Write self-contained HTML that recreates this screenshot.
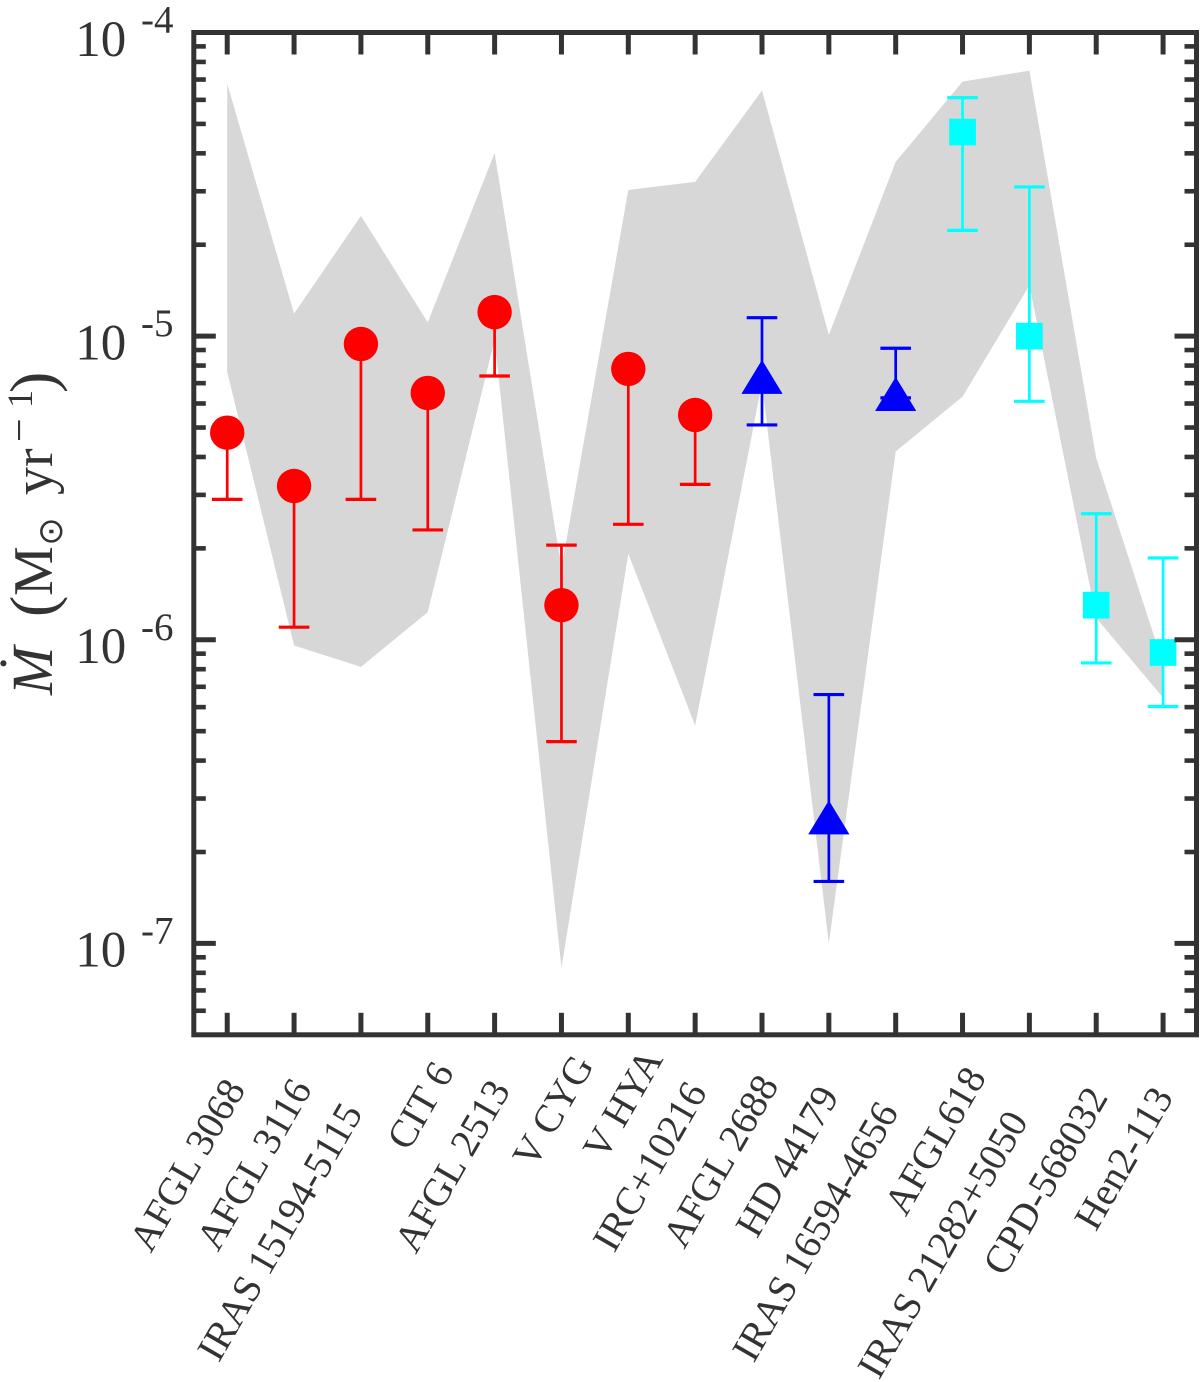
<!DOCTYPE html>
<html lang="en">
<head>
<meta charset="utf-8">
<title>Mass-loss rates</title>
<style>
html,body{margin:0;padding:0;background:#fff;width:1200px;height:1382px;overflow:hidden}
svg{display:block}
text{font-family:"Liberation Serif",serif;fill:#333}
</style>
</head>
<body>
<svg id="chart" xmlns="http://www.w3.org/2000/svg" width="1200" height="1382" viewBox="0 0 1200 1382">
  <g id="band-layer"></g>
  <g id="series-layer"></g>
  <g id="axes-layer"></g>
  <g id="y-title">
    <text transform="translate(52,695) rotate(-90)" font-size="58" font-style="italic">M</text>
    <text transform="translate(39,673) rotate(-90)" font-size="58">˙</text>
    <text transform="translate(54,617) rotate(-90)" font-size="64">(</text>
    <text transform="translate(52,596) rotate(-90)" font-size="56">M</text>
    <text transform="translate(62,531.5) rotate(-90)" font-size="34" text-anchor="middle" style="font-family:'DejaVu Sans',sans-serif">⊙</text>
    <text transform="translate(52,495) rotate(-90)" font-size="56">yr</text>
    <text transform="translate(33,442) rotate(-90)" font-size="42">−</text>
    <text transform="translate(32,408) rotate(-90)" font-size="36">1</text>
    <text transform="translate(54,393) rotate(-90)" font-size="64">)</text>
  </g>
</svg>
<script>
const categories = ["AFGL 3068","AFGL 3116","IRAS 15194-5115","CIT 6","AFGL 2513","V CYG","V HYA","IRC+10216","AFGL 2688","HD 44179","IRAS 16594-4656","AFGL618","IRAS 21282+5050","CPD-568032","Hen2-113"];
const bandUpper = [6.79e-5,1.186e-5,2.49e-5,1.11e-5,4.01e-5,1.72e-6,3.03e-5,3.22e-5,6.44e-5,1.01e-5,3.75e-5,6.89e-5,7.49e-5,3.97e-6,8.33e-7];
const bandLower = [7.62e-6,9.57e-7,8.14e-7,1.233e-6,9.72e-6,8.31e-8,1.92e-6,5.22e-7,7.01e-6,1.00e-7,4.17e-6,6.32e-6,1.47e-5,1.18e-6,6.44e-7];
const rateValues = [4.81e-6,3.21e-6,9.42e-6,6.50e-6,1.20e-5,1.30e-6,7.80e-6,5.50e-6,7.34e-6,2.60e-7,6.45e-6,4.70e-5,1.00e-5,1.30e-6,9.08e-7];
const errorLow = [2.90e-6,1.10e-6,2.90e-6,2.30e-6,7.39e-6,4.62e-7,2.40e-6,3.25e-6,5.10e-6,1.60e-7,6.26e-6,2.23e-5,6.10e-6,8.39e-7,6.03e-7];
const errorHigh = [null,null,null,null,null,2.05e-6,null,null,1.15e-5,6.60e-7,9.12e-6,6.10e-5,3.10e-5,2.60e-6,1.86e-6];
const seriesClass = ["circle","circle","circle","circle","circle","circle","circle","circle","triangle","triangle","triangle","square","square","square","square"];
const yTickExponents = [-4,-5,-6,-7];
const yTickLabels = ["-4","-5","-6","-7"];
const yMinorMultiples = [2,3,4,5,6,7,8,9];
const yMin = 5e-8;
const yMax = 1e-4;
const xMin = 0.5;
const xMax = 15.5;

const NS = "http://www.w3.org/2000/svg";
const INK = "#333333";
const plot = {left:193.8, right:1196.5, top:32.5, bottom:1034.8};
const classColor = {circle:"#ff0000", triangle:"#0000ff", square:"#00ffff"};

function xScale(i){
  return plot.left + (i - xMin) / (xMax - xMin) * (plot.right - plot.left);
}
function yScale(v){
  return plot.top + (Math.log10(yMax) - Math.log10(v)) / (Math.log10(yMax) - Math.log10(yMin)) * (plot.bottom - plot.top);
}
function make(tag, attrs, parent){
  const el = document.createElementNS(NS, tag);
  for (const k in attrs) el.setAttribute(k, attrs[k]);
  parent.appendChild(el);
  return el;
}
function tickLine(parent, x1, y1, x2, y2, name, width){
  const el = make("line", {x1:x1, y1:y1, x2:x2, y2:y2, stroke:INK, "stroke-width":width}, parent);
  
  
  return el;
}

function drawBand(){
  const layer = document.getElementById("band-layer");
  const pts = [];
  bandUpper.forEach(function(v, i){ pts.push(xScale(i + 1).toFixed(2) + "," + yScale(v).toFixed(2)); });
  for (let i = bandLower.length - 1; i >= 0; i--) pts.push(xScale(i + 1).toFixed(2) + "," + yScale(bandLower[i]).toFixed(2));
  const band = make("polygon", {points:pts.join(" "), fill:"#d7d7d7", stroke:"none"}, layer);
  
  
}

function drawSeries(){
  const layer = document.getElementById("series-layer");
  const capHalf = 15.3;
  categories.forEach(function(name, idx){
    const x = xScale(idx + 1);
    const y = yScale(rateValues[idx]);
    const color = classColor[seriesClass[idx]];
    const top = errorHigh[idx] === null ? rateValues[idx] : errorHigh[idx];

    const stem = make("line", {x1:x, x2:x, y1:yScale(top), y2:yScale(errorLow[idx]), stroke:color, "stroke-width":2.7}, layer);
    
    

    const lowCap = make("line", {x1:x - capHalf, x2:x + capHalf, y1:yScale(errorLow[idx]), y2:yScale(errorLow[idx]), stroke:color, "stroke-width":3.2}, layer);
    
    

    if (errorHigh[idx] !== null) {
      const highCap = make("line", {x1:x - capHalf, x2:x + capHalf, y1:yScale(errorHigh[idx]), y2:yScale(errorHigh[idx]), stroke:color, "stroke-width":3.2}, layer);
      
      
    }

    let marker;
    if (seriesClass[idx] === "circle") {
      marker = make("circle", {cx:x, cy:y, r:17.2, fill:color}, layer);
    } else if (seriesClass[idx] === "triangle") {
      marker = make("polygon", {points:(x) + "," + (y - 17) + " " + (x + 20.6) + "," + (y + 17) + " " + (x - 20.6) + "," + (y + 17), fill:color}, layer);
    } else {
      marker = make("rect", {x:x - 13.35, y:y - 13.35, width:26.7, height:26.7, fill:color}, layer);
    }
    
    
  });
}

function drawAxes(){
  const layer = document.getElementById("axes-layer");
  const lw = 5;
  const majorLen = 20;
  const minorLen = 10;

  const frame = make("rect", {x:plot.left, y:plot.top, width:plot.right - plot.left, height:plot.bottom - plot.top, fill:"none", stroke:INK, "stroke-width":lw}, layer);
  
  

  categories.forEach(function(name, idx){
    const x = xScale(idx + 1);
    tickLine(layer, x, plot.bottom, x, plot.bottom - 22, 'x-tick-bottom', lw);
    tickLine(layer, x, plot.top, x, plot.top + 22, 'x-tick-top', lw);
  });

  yTickExponents.forEach(function(exp, i){
    const y = yScale(Math.pow(10, exp));
    if (exp !== -4) {
      tickLine(layer, plot.left, y, plot.left + majorLen + 2, y, 'y-major-tick-left', lw);
      tickLine(layer, plot.right, y, plot.right - majorLen - 2, y, 'y-major-tick-right', lw);
    }
    const base = make("text", {x:75.3, y:y + 23.3, "font-size":51}, layer);
    
    
    base.textContent = "10";
    const sup = make("text", {x:141, y:y, "font-size":39}, layer);
    
    
    sup.textContent = yTickLabels[i];
  });

  [-5,-6,-7,-8].forEach(function(exp){
    yMinorMultiples.forEach(function(m){
      const v = m * Math.pow(10, exp);
      if (v <= yMin) return;
      const y = yScale(v);
      tickLine(layer, plot.left, y, plot.left + minorLen + 2, y, 'y-minor-tick-left', 4.6);
      tickLine(layer, plot.right, y, plot.right - minorLen - 2, y, 'y-minor-tick-right', 4.6);
    });
  });

  const labelEndShift = [[19,1089],[18.5,1089],[2.5,1113],[27,1072],[16.5,1090],[33,1065],[35.5,1059],[12.5,1092],[17.5,1085],[11,1096],[3.5,1112],[24.5,1077],[-0.5,1121],[12.5,1097],[11,1097]];
  categories.forEach(function(name, idx){
    const ex = xScale(idx + 1) + labelEndShift[idx][0];
    const ey = labelEndShift[idx][1];
    const label = make("text", {transform:"translate(" + ex.toFixed(1) + "," + ey + ") rotate(-60)", "text-anchor":"end", "font-size":39.5}, layer);
    
    
    label.textContent = name;
  });
}

drawBand();
drawSeries();
drawAxes();
</script>
</body>
</html>
